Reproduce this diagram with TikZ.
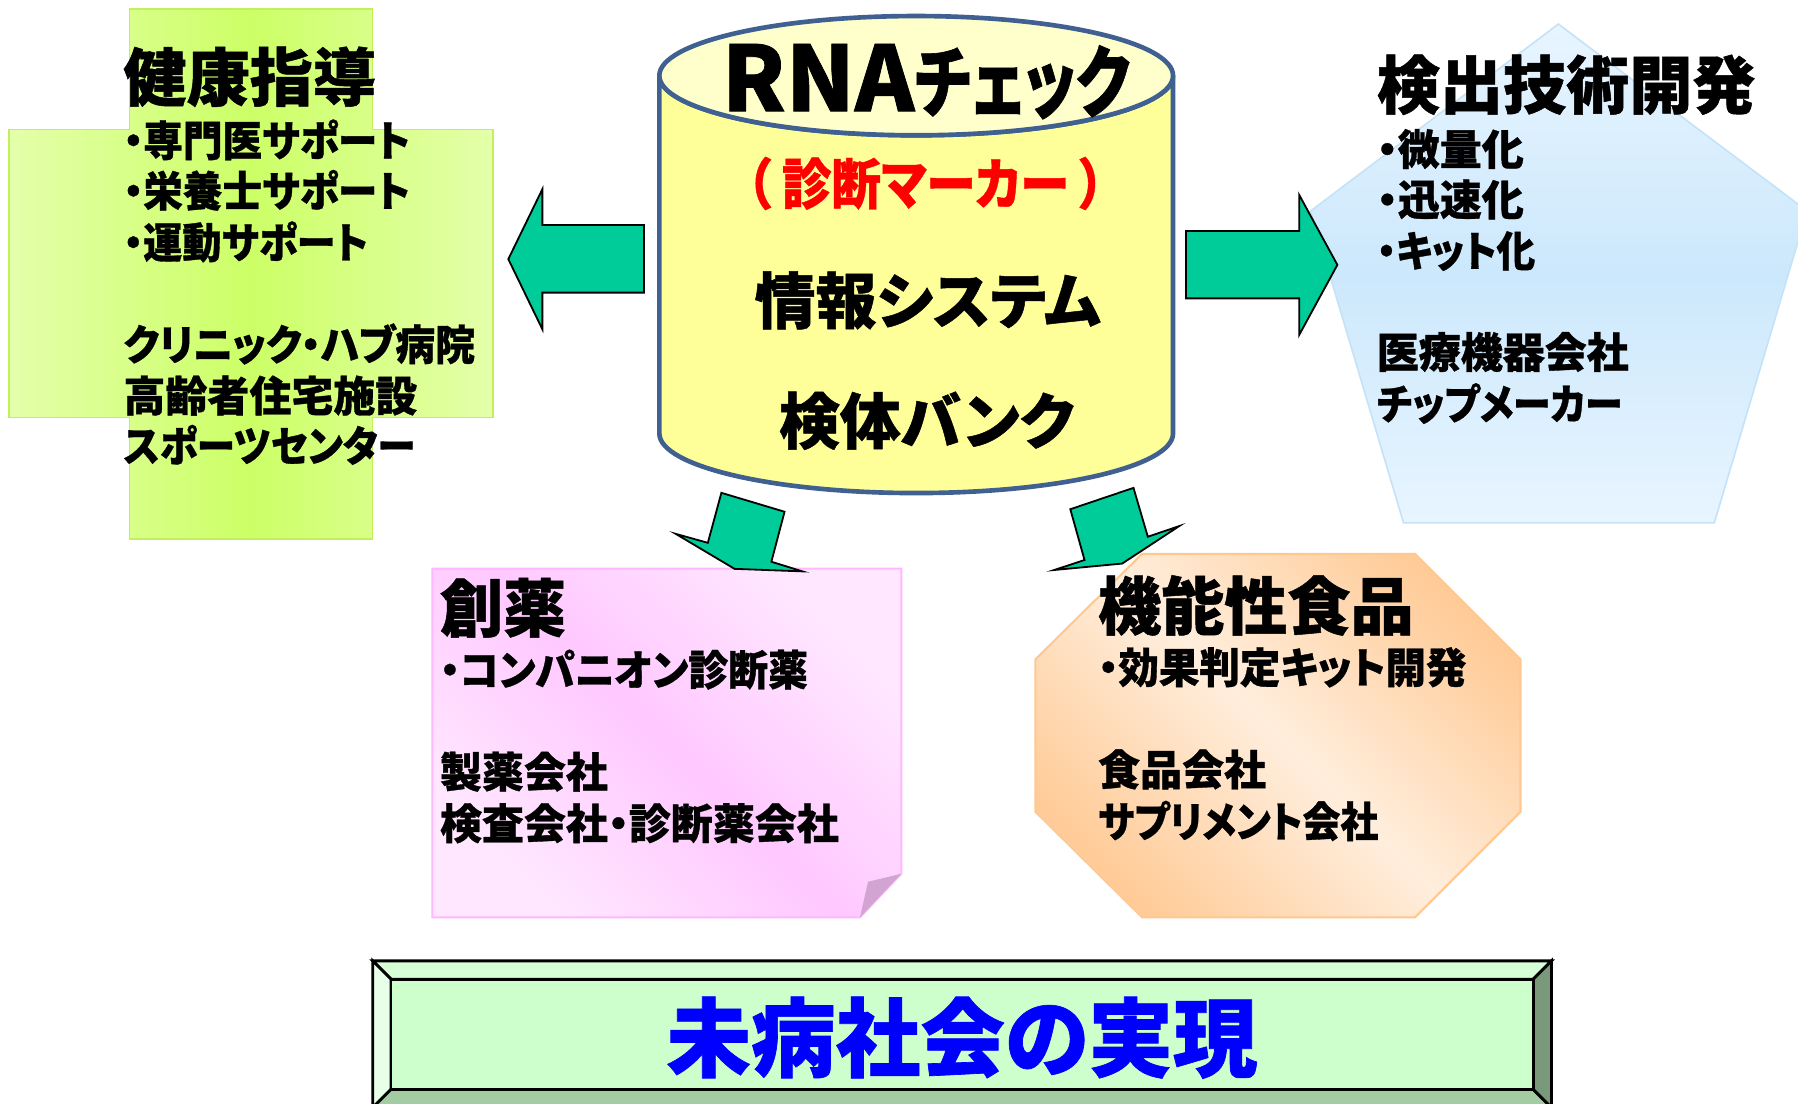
\documentclass[tikz,border=0pt]{standalone}
\usepackage{graphicx}
\usepackage{fontspec}
\newfontfamily\jp{Noto Sans CJK JP}[RawFeature=+palt, BoldFeatures={FakeBold=0.8}]
\newcommand\fsz[1]{\fontsize{#1}{#1}\selectfont}
\newcommand\sx[2]{\scalebox{#1}[1]{#2}}
\definecolor{arrowgreen}{HTML}{00CC99}
\definecolor{limec}{HTML}{CCFF66}
\definecolor{limel}{HTML}{E4FFAA}
\definecolor{limed}{HTML}{C2F05A}
\definecolor{cylside}{HTML}{FFFF99}
\definecolor{cyltop}{HTML}{FFFFCC}
\definecolor{cylline}{HTML}{3F6090}
\definecolor{bluec}{HTML}{CCE8FC}
\definecolor{bluel}{HTML}{E8F5FF}
\definecolor{blued}{HTML}{C4E2F8}
\definecolor{pinkc}{HTML}{FFC8FF}
\definecolor{pinkl}{HTML}{FFE8FF}
\definecolor{pinkd}{HTML}{FFB8FF}
\definecolor{pinkfold}{HTML}{D2A4D2}
\definecolor{orc}{HTML}{FFCC99}
\definecolor{orl}{HTML}{FFEEDD}
\definecolor{ord}{HTML}{FFC890}
\definecolor{facec}{HTML}{CCFFCC}
\definecolor{topbev}{HTML}{D6FFD6}
\definecolor{leftbev}{HTML}{E8FFE8}
\definecolor{botbev}{HTML}{A3CCA3}
\definecolor{rightbev}{HTML}{7A997A}
\tikzset{
  ttl/.style={anchor=west, inner sep=0pt, font=\jp\bfseries\fsz{15.65pt}},
  bdy/.style={anchor=west, inner sep=0pt, font=\jp\bfseries\fsz{10.41pt}},
  cyltxt/.style={anchor=center, inner sep=0pt, font=\jp\bfseries\fsz{15.1pt}},
  grarrow/.style={fill=arrowgreen, draw=black, line width=0.45pt, line join=miter},
  bevel/.style={draw=black, line width=0.7pt, line join=miter},
}
\begin{document}
\begin{tikzpicture}[x=0.01cm,y=-0.01cm]
\useasboundingbox (0,0) rectangle (1568,962);
\fill[white] (0,0) rectangle (1568,962);

% ---------- cross (health guidance)
\path[draw=limed, line width=0.4pt, left color=limel, right color=limel, middle color=limec]
  (113,8) -- (325,8) -- (325,113) -- (430,113) -- (430,364) -- (325,364) -- (325,470)
  -- (113,470) -- (113,364) -- (8,364) -- (8,113) -- (113,113) -- cycle;
\node[ttl] (h0) at (107,67) {健康指導};
\node[bdy] (h1) at (107,122) {\sx{0.943}{・専門医サポート}};
\node[bdy] (h2) at (107,166) {\sx{0.943}{・栄養士サポート}};
\node[bdy] (h3) at (107,211) {\sx{0.934}{・運動サポート}};
\node[bdy] (h4) at (107,300) {\sx{0.947}{クリニック・ハブ病院}};
\node[bdy] (h5) at (107,345) {高齢者住宅施設};
\node[bdy] (h6) at (107,388) {\sx{0.917}{スポーツセンター}};

% ---------- pentagon (detection technology)
\path[draw=blued, line width=0.4pt, top color=bluel, bottom color=bluel, middle color=bluec]
  (1359,21) -- (1576,184) -- (1495,456) -- (1224,456) -- (1143,184) -- cycle;
\node[ttl] (d0) at (1200,74) {検出技術開発};
\node[bdy] (d1) at (1200,130) {・微量化};
\node[bdy] (d2) at (1200,174) {・迅速化};
\node[bdy] (d3) at (1200,219) {\sx{0.92}{・キット化}};
\node[bdy] (d4) at (1200,307) {医療機器会社};
\node[bdy] (d5) at (1200,352) {\sx{0.906}{チップメーカー}};

% ---------- pink note (drug discovery)
\path[draw=pinkd, line width=0.5pt, top color=pinkl, bottom color=pinkl, middle color=pinkc, shading angle=-45]
  (377,496) -- (786,496) -- (786,762) -- (750,800) -- (377,800) -- cycle;
\fill[pinkfold] (786,762) -- (750,800) -- (757,769) -- cycle;
\node[ttl] (p0) at (383,530) {創薬};
\node[bdy] (p1) at (383,584) {\sx{0.95}{・コンパニオン診断薬}};
\node[bdy] (p2) at (383,673) {製薬会社};
\node[bdy] (p3) at (383,718) {検査会社・診断薬会社};

% ---------- octagon (functional food)
\path[draw=ord, line width=0.5pt, top color=orc, bottom color=orc, middle color=orl, shading angle=-45]
  (996,483) -- (1234,483) -- (1326,575) -- (1326,708) -- (1234,800) -- (996,800)
  -- (903,708) -- (903,575) -- cycle;
\node[ttl] (f0) at (957,528) {機能性食品};
\node[bdy] (f1) at (957,582) {\sx{0.964}{・効果判定キット開発}};
\node[bdy] (f2) at (957,671) {食品会社};
\node[bdy] (f3) at (957,716) {\sx{0.904}{サプリメント会社}};

% ---------- cylinder
\path[fill=cylside, draw=cylline, line width=1.15pt]
  (575,66) -- (575,378) arc[start angle=180, end angle=0, x radius=224, y radius=52]
  -- (1023,66) arc[start angle=0, end angle=180, x radius=224, y radius=52] -- cycle;
\path[fill=cyltop, draw=cylline, line width=1.15pt] (799,66) ellipse[x radius=224, y radius=52];
\node[anchor=base, inner sep=0pt, font=\jp\bfseries\fsz{19.5pt}] (c0) at (807.5,97) {{\fsz{22.4pt}RNA}\sx{0.77}{チェック}};
\node[cyltxt, font=\jp\bfseries\fsz{13.66pt}, text=red] (c1) at (807,160) {\sx{0.9}{（\kern3pt 診断マーカー\kern3pt）}};
\node[cyltxt] (c2) at (809,262) {情報システム};
\node[cyltxt] (c3) at (808,367) {検体バンク};

% ---------- block arrows
\path[grarrow] (443.3,226) -- (473,165) -- (473,196.2) -- (561.6,196.2) -- (561.6,255.2)
  -- (473,255.2) -- (473,287.2) -- cycle;
\path[grarrow] (1166.3,231) -- (1133,292.1) -- (1133,260.2) -- (1034.3,260.2) -- (1034.3,201.4)
  -- (1133,201.4) -- (1133,170) -- cycle;
\path[grarrow] (629.1,429.8) -- (684.2,446.3) -- (672.7,489.9) -- (699.8,498.3) -- (640.6,496.1)
  -- (589.3,465.6) -- (617.3,473.4) -- cycle;
\path[grarrow] (933.4,444.1) -- (988.5,425.5) -- (1001.0,468.1) -- (1028.4,458.8) -- (978.6,491.5)
  -- (919.4,497.1) -- (945.8,488.4) -- cycle;

% ---------- bevelled goal box
\path[bevel, fill=topbev] (325,838) -- (1353,838) -- (1337,854) -- (341,854) -- cycle;
\path[bevel, fill=leftbev] (325,838) -- (341,854) -- (341,950) -- (325,966) -- cycle;
\path[bevel, fill=botbev] (325,966) -- (341,950) -- (1337,950) -- (1353,966) -- cycle;
\path[bevel, fill=rightbev] (1353,838) -- (1353,966) -- (1337,950) -- (1337,854) -- cycle;
\path[bevel, fill=facec] (341,854) rectangle (1337,950);
\node[anchor=center, inner sep=0pt, text={rgb,255:red,0;green,0;blue,255}, font=\jp\bfseries\fsz{21.3pt}] (goal) at (839,905) {\sx{0.985}{未病社会の実現}};
\end{tikzpicture}
\end{document}
